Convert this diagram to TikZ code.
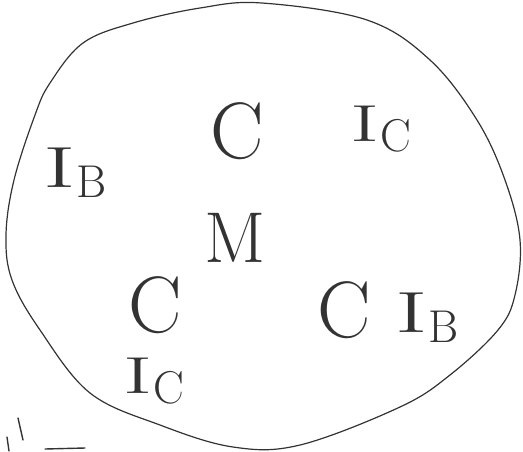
\documentclass[tikz,border=0pt]{standalone}
\usepackage{graphicx}
\usetikzlibrary{positioning}
\definecolor{PencilGrey}{rgb}{0.2, 0.2, 0.2}
\newcommand{\bigI}{\scalebox{1.7}[1]{I}}
\newcommand{\Isub}[1]{\bigI\kern1pt\raisebox{-10pt}{\fontsize{46}{46}\selectfont #1}}

\begin{document}
\begin{tikzpicture}[
    x=1pt, y=-1pt,
    outline/.style={draw=PencilGrey, line width=1.2pt, line join=round},
    stroke/.style={draw=PencilGrey, line width=1.4pt, line cap=round},
    bigletter/.style={inner sep=0pt, text=PencilGrey, font=\fontsize{80}{80}\selectfont},
    current/.style={inner sep=0pt, text=PencilGrey, anchor=north west,
        font=\fontsize{58}{58}\selectfont}
]
\useasboundingbox (0,0) rectangle (523,451);

% the big loop
\draw[outline] plot[smooth cycle, tension=0.6] coordinates {
    (262,3) (367,20) (430,60) (477,120) (505,180) (520,240) (515,295)
    (498,330) (450,375) (400,407) (300,445) (233,447) (160,425) (90,393)
    (40,330) (12,280) (6,235) (14,180) (35,115) (50,83) (83,43) (133,23) (200,8)};

% letters
\node[bigletter] (topC) at (237,131) {C};
\node[bigletter] (lowC) at (155,305) {C};
\node[bigletter] (rightC) at (344,310) {C};
\node[bigletter, font=\fontsize{72}{72}\selectfont] (midM) at (235,238) {M};

\node[current] (leftIB) at (43,148) {\Isub{B}};
\node[current, font=\fontsize{52}{52}\selectfont] (topIC) at (350,106) {\Isub{C}};
\node[current, font=\fontsize{52}{52}\selectfont] (lowIC) at (123,358) {\Isub{C}};
\node[current] (rightIB) at (395,293) {\Isub{B}};

% marks at the lower left
\draw[stroke] (7,437) -- (9,451);
\draw[stroke] (18,418) -- (23,440);
\draw[stroke] (45,449) -- (85,448);
\end{tikzpicture}
\end{document}
